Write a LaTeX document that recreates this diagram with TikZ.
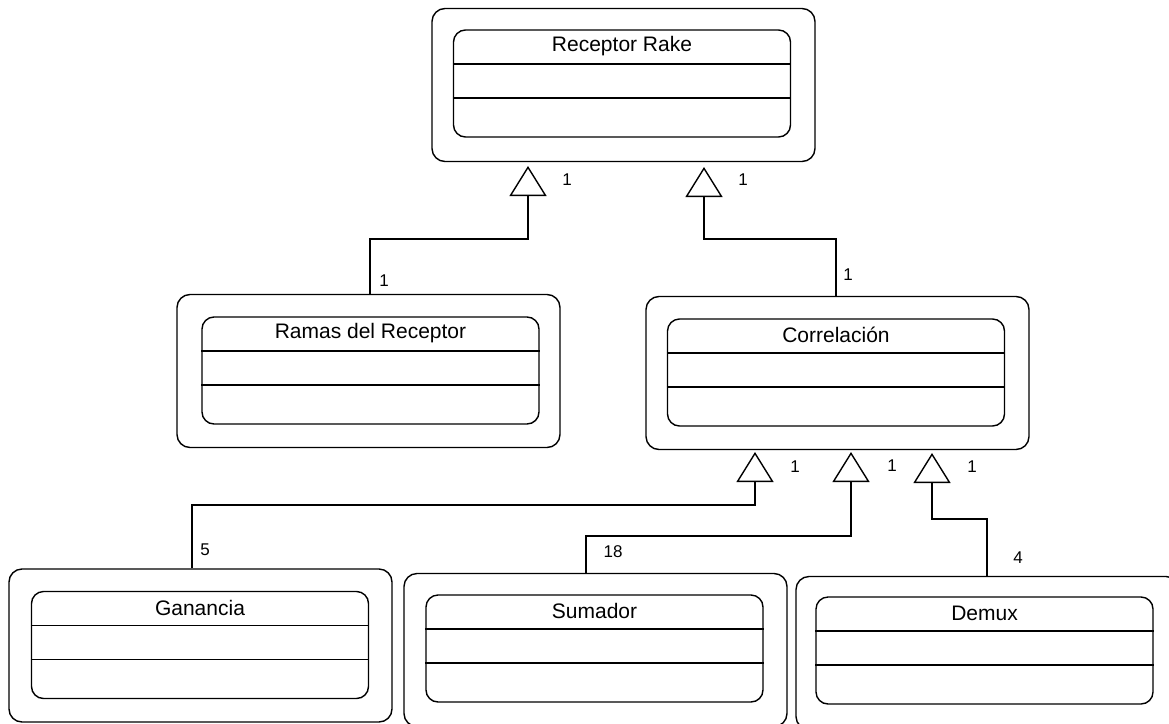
\documentclass[tikz,border=0pt]{standalone}
\usepackage{fontspec}
\setmainfont{Liberation Sans}
\usetikzlibrary{arrows.meta}
\newcommand\umlclass[6]{%
  \node[outerbox] (#1) at (#2,#3) {};
  \node[innerbox] (#1i) at (#4,#5) {};
  \draw ([yshift=-34.5pt]#1i.north west) -- ([yshift=-34.5pt]#1i.north east);
  \draw ([yshift=-68.5pt]#1i.north west) -- ([yshift=-68.5pt]#1i.north east);
  \node[classname] (#1t) at ([yshift=-17pt]#1i.north) {#6};
}
\begin{document}
\begin{tikzpicture}[x=1pt,y=-1pt,line width=1.4pt,
  outerbox/.style={draw, rounded corners=13pt, minimum width=383pt, minimum height=153pt, inner sep=0pt},
  innerbox/.style={draw, rounded corners=12pt, minimum width=337pt, minimum height=107pt, inner sep=0pt},
  classname/.style={font=\fontsize{21}{25}\selectfont, inner sep=0pt},
  mult/.style={font=\fontsize{17}{20}\selectfont, inner sep=0pt},
  gen/.style={-{Triangle[open, length=30pt, width=37pt, line width=1.4pt]}}]
\path[use as bounding box, fill=white] (0,0) rectangle (1169,723);
\clip (0,0) rectangle (1169,723);

\umlclass{rr}{623.5}{85}{622}{83.5}{Receptor Rake}
\umlclass{rdr}{368.5}{371}{370.5}{370.5}{Ramas del Receptor}
\umlclass{cor}{837.5}{373}{836}{372.5}{Correlación}
\umlclass{gan}{200.5}{645.5}{200}{645}{Ganancia}
\umlclass{sum}{595.5}{650}{594.5}{648.5}{Sumador}
\umlclass{dem}{987.5}{653}{984.5}{650.5}{Demux}

\coordinate (t1) at (528,166);
\coordinate (t2) at (704,167);
\coordinate (t3) at (755,452);
\coordinate (t4) at (851,452);
\coordinate (t5) at (932,453);
\coordinate (b1) at (528,239);
\coordinate (b2) at (704,239);
\coordinate (b3) at (755,505);
\coordinate (b4) at (851,536);
\coordinate (b5) at (932,519);

\draw[gen] ([xshift=1.5pt]rdr.north) |- (b1) -- (t1);
\draw[gen] ([xshift=-1.5pt]cor.north) |- (b2) -- (t2);
\draw[gen] ([xshift=-8.5pt]gan.north) |- (b3) -- (t3);
\draw[gen] ([xshift=-9.5pt]sum.north) |- (b4) -- (t4);
\draw[gen] ([xshift=-0.5pt]dem.north) |- (b5) -- (t5);

\node[mult] (m1) at (567,180) {1};
\node[mult] (m2) at (743,180) {1};
\node[mult] (m3) at (384,281) {1};
\node[mult] (m4) at (848,275) {1};
\node[mult] (m5) at (795,467) {1};
\node[mult] (m6) at (892,466) {1};
\node[mult] (m7) at (972,467) {1};
\node[mult] (m8) at (205,550) {5};
\node[mult] (m9) at (613,552) {18};
\node[mult] (m10) at (1018,558) {4};
\end{tikzpicture}
\end{document}
